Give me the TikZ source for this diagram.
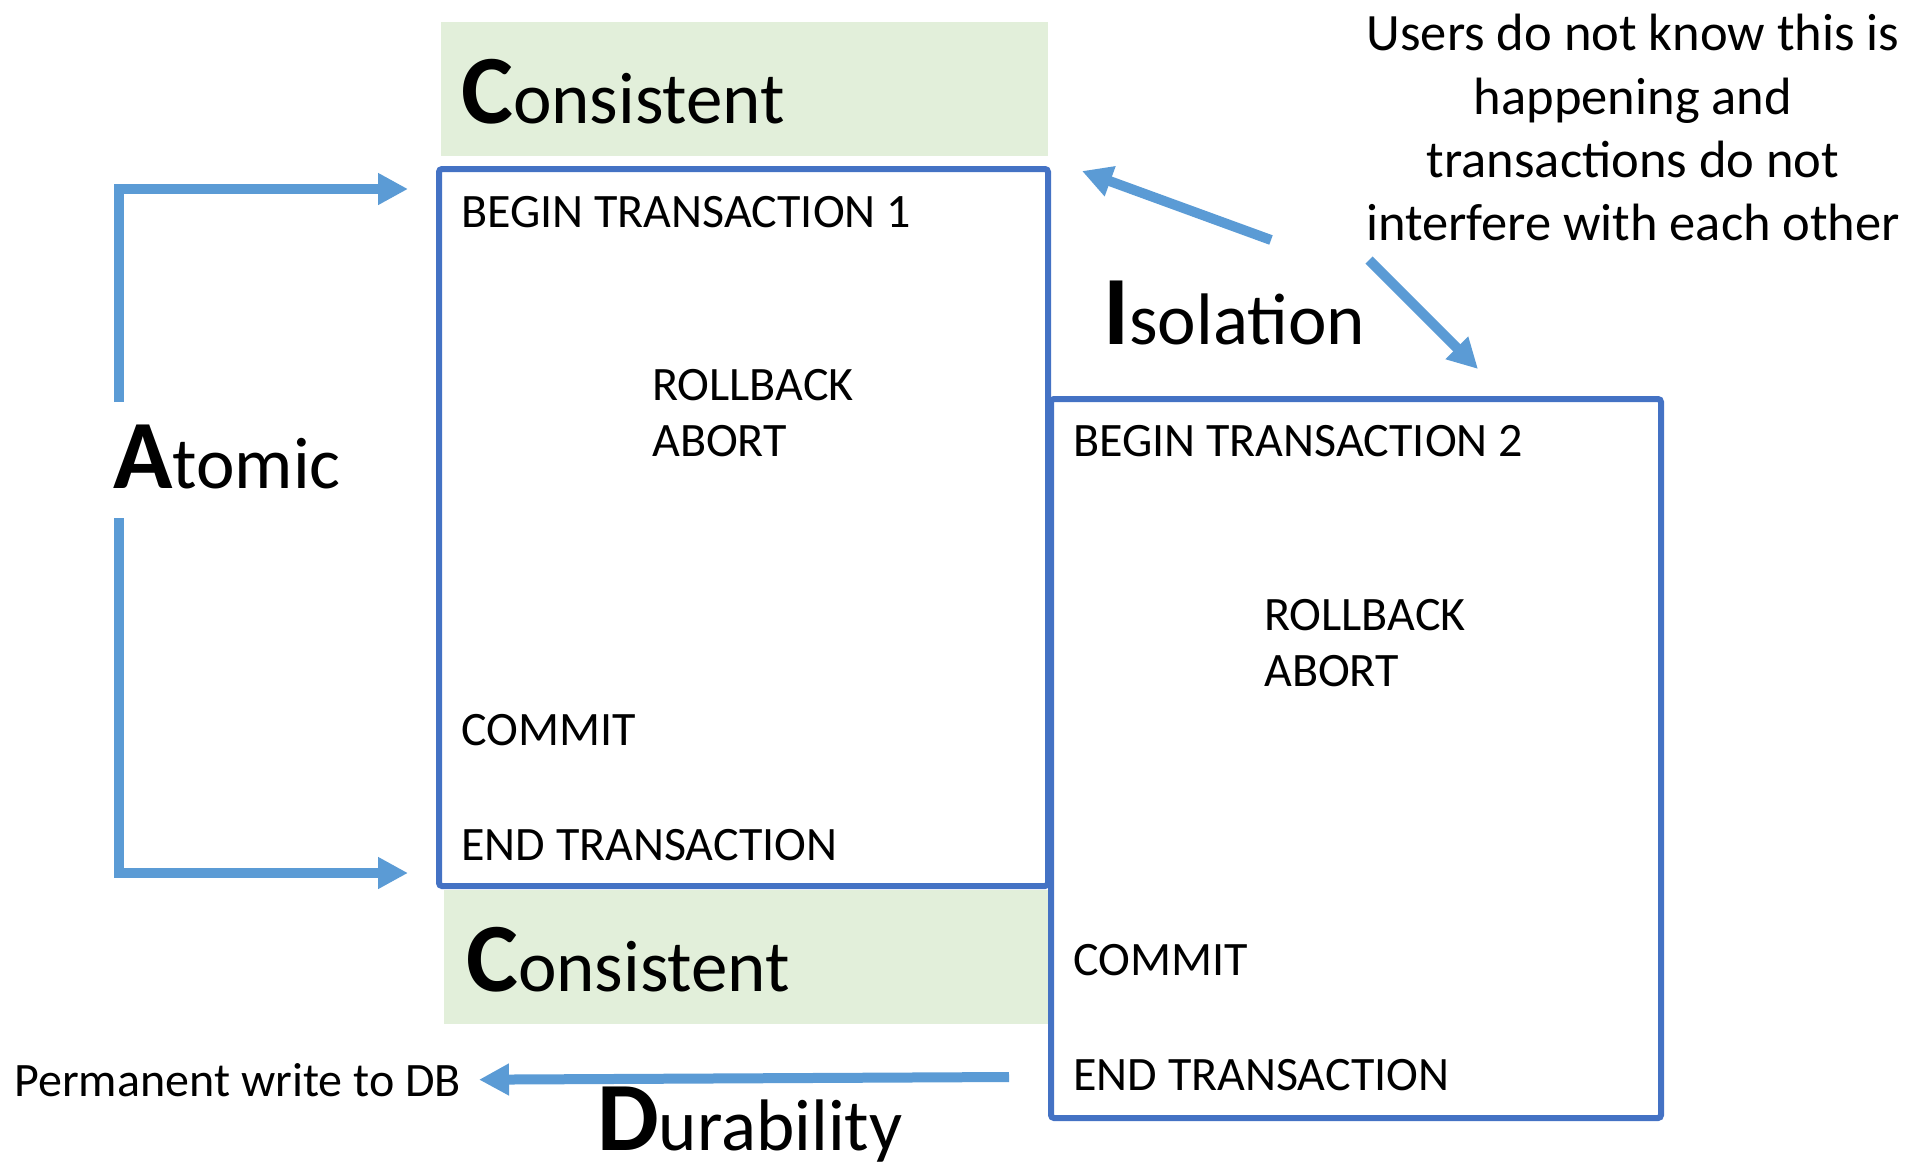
\documentclass[tikz,border=0pt]{standalone}
\usepackage{fontspec}
\setmainfont{Carlito}
\usetikzlibrary{arrows.meta}
\definecolor{boxblue}{HTML}{4472C4}
\definecolor{arrowblue}{HTML}{5B9BD5}
\definecolor{bandgreen}{HTML}{E2EFDA}
% big bold initial, then the rest of the word
\newcommand{\acidword}[2]{{\fontsize{98}{110}\selectfont\textbf{#1}}{\fontsize{73}{90}\selectfont #2}}

\begin{document}
\begin{tikzpicture}[x=1pt, y=-1pt,
    txbox/.style = {draw=boxblue, line width=6pt, rounded corners=3pt, inner sep=0pt},
    band/.style = {fill=bandgreen, inner sep=0pt, minimum height=134pt},
    body/.style = {anchor=base west, inner sep=0pt, font=\fontsize{48}{60}\selectfont},
    big/.style = {anchor=base west, inner sep=0pt},
    flow/.style = {draw=arrowblue, line width=10pt, -{Triangle[length=30pt, width=30pt]}}]
    \useasboundingbox (0,0) rectangle (1911,1175);

    % consistent bands
    \node[band, minimum width=607pt] (bandtop) at (744.5,89) {};
    \node[band, minimum width=604pt] (bandbot) at (746,957) {};
    \node[big] (constop) at (461,123) {\acidword{C}{onsistent}};
    \node[big] (consbot) at (466,991) {\acidword{C}{onsistent}};

    % transaction boxes
    \node[txbox, minimum width=609pt, minimum height=717pt] (tx1) at (743.5,527.5) {};
    \node[txbox, minimum width=610pt, minimum height=719pt] (tx2) at (1356,758.5) {};

    \node[body] (begin1) at (461,227) {BEGIN TRANSACTION 1};
    \node[body] (roll1) at (652,400) {ROLLBACK};
    \node[body] (abort1) at (652,456) {ABORT};
    \node[body] (commit1) at (461,745) {COMMIT};
    \node[body] (end1) at (461,860) {END TRANSACTION};

    \node[body] (begin2) at (1073,456) {BEGIN TRANSACTION 2};
    \node[body] (roll2) at (1264,630) {ROLLBACK};
    \node[body] (abort2) at (1264,686) {ABORT};
    \node[body] (commit2) at (1073,975) {COMMIT};
    \node[body] (end2) at (1073,1090) {END TRANSACTION};

    % atomic
    \node[big] (atomic) at (113,488) {\acidword{A}{tomic}};
    \coordinate (atop) at (119,402);
    \coordinate (abot) at (119,518);
    \coordinate (atip1) at (408,189);
    \coordinate (atip2) at (408,873);
    \draw[flow] (atop) |- (atip1);
    \draw[flow] (abot) |- (atip2);

    % isolation
    \node[big] (isolation) at (1103,344) {\acidword{I}{solation}};
    \node[anchor=north, inner sep=0pt, align=center, font=\fontsize{52.5}{63.4}\selectfont] (note) at (1633,14)
        {Users do not know this is\\happening and\\transactions do not\\interfere with each other};
    \coordinate (iso1) at (1271,240);
    \coordinate (iso2) at (1369,260);
    \coordinate (isotip1) at (1082,171);
    \coordinate (isotip2) at (1478,369);
    \draw[flow] (iso1) -- (isotip1);
    \draw[flow] (iso2) -- (isotip2);

    % durability
    \node[body, anchor=base east] (perm) at (461,1096) {Permanent write to DB};
    \node[big] (durability) at (597,1150) {\acidword{D}{urability}};
    \coordinate (dstart) at (1009,1077);
    \draw[flow] (dstart) -- (perm.east -| 479,0);
\end{tikzpicture}
\end{document}
